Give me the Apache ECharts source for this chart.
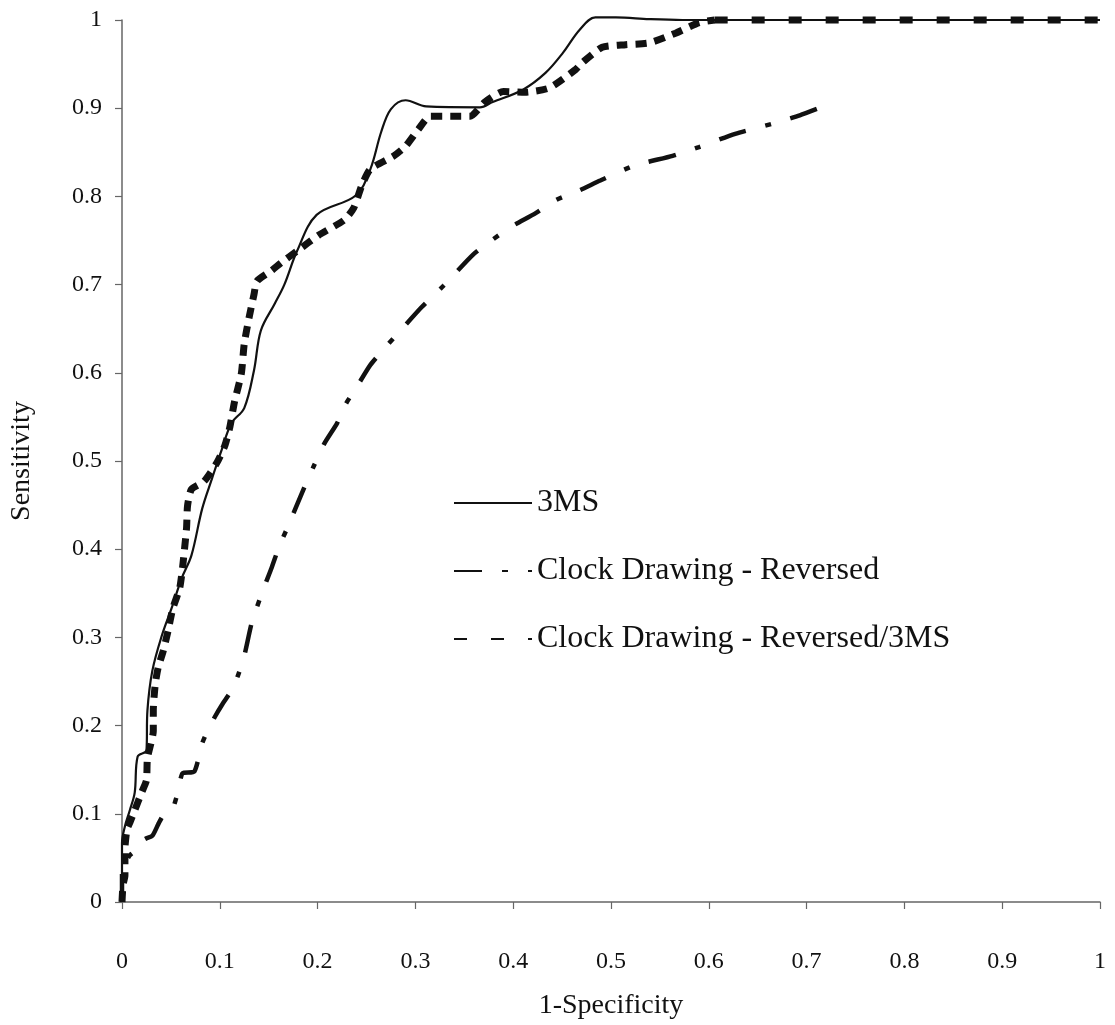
<!DOCTYPE html>
<html>
<head>
<meta charset="utf-8">
<script src="https://cdn.jsdelivr.net/npm/echarts@6/dist/echarts.min.js"></script>
<style>
html,body{margin:0;padding:0;background:#fff;}
#chart{width:1115px;height:1025px;}
</style>
</head>
<body>
<div id="chart"></div>
<script>
// ---- Data ----
var xTicks = [0, 0.1, 0.2, 0.3, 0.4, 0.5, 0.6, 0.7, 0.8, 0.9, 1];
var yTicks = [0, 0.1, 0.2, 0.3, 0.4, 0.5, 0.6, 0.7, 0.8, 0.9, 1];

var seriesNames = ["3MS", "Clock Drawing - Reversed", "Clock Drawing - Reversed/3MS"];

// 3MS (solid)
var ms3X = [0, 0, 0.003, 0.008, 0.013, 0.016, 0.025, 0.026, 0.031, 0.041, 0.051, 0.061, 0.071, 0.082, 0.092, 0.102, 0.112, 0.125, 0.135, 0.142, 0.156, 0.166, 0.179, 0.199, 0.239, 0.254, 0.265, 0.275, 0.29, 0.311, 0.366, 0.379, 0.41, 0.433, 0.451, 0.468, 0.484, 0.505, 0.539, 0.573, 1.0];
var ms3Y = [0, 0.067, 0.086, 0.104, 0.124, 0.165, 0.172, 0.217, 0.262, 0.303, 0.334, 0.367, 0.393, 0.446, 0.48, 0.513, 0.543, 0.56, 0.603, 0.648, 0.678, 0.7, 0.738, 0.779, 0.801, 0.831, 0.873, 0.899, 0.909, 0.902, 0.901, 0.907, 0.921, 0.94, 0.963, 0.989, 1.003, 1.003, 1.001, 1.0, 1.0];

// Clock Drawing - Reversed (dash-dot)
var cdrX = [0, 0, 0.003, 0.008, 0.016, 0.023, 0.031, 0.037, 0.042, 0.051, 0.056, 0.059, 0.062, 0.074, 0.082, 0.087, 0.095, 0.102, 0.112, 0.118, 0.125, 0.133, 0.145, 0.153, 0.161, 0.169, 0.186, 0.196, 0.207, 0.22, 0.229, 0.24, 0.254, 0.271, 0.288, 0.306, 0.329, 0.359, 0.379, 0.397, 0.423, 0.444, 0.468, 0.489, 0.524, 0.563, 0.59, 0.627, 0.667, 0.693, 0.717];
var cdrY = [0, 0.045, 0.045, 0.053, 0.06, 0.071, 0.075, 0.088, 0.098, 0.104, 0.12, 0.135, 0.146, 0.148, 0.18, 0.193, 0.21, 0.223, 0.24, 0.255, 0.279, 0.318, 0.356, 0.379, 0.404, 0.424, 0.469, 0.494, 0.52, 0.543, 0.565, 0.584, 0.609, 0.631, 0.652, 0.674, 0.699, 0.734, 0.751, 0.765, 0.781, 0.796, 0.807, 0.818, 0.835, 0.846, 0.856, 0.871, 0.883, 0.892, 0.902];

// Clock Drawing - Reversed/3MS (thick dashed) — rising part
var cdr3X = [0, 0.001, 0.003, 0.003, 0.005, 0.008, 0.013, 0.02, 0.025, 0.026, 0.032, 0.032, 0.034, 0.037, 0.042, 0.047, 0.052, 0.059, 0.062, 0.066, 0.067, 0.071, 0.084, 0.097, 0.105, 0.11, 0.115, 0.122, 0.125, 0.13, 0.135, 0.138, 0.153, 0.163, 0.179, 0.201, 0.227, 0.237, 0.245, 0.254, 0.278, 0.29, 0.303, 0.315, 0.336, 0.356, 0.371, 0.39, 0.412, 0.437, 0.464, 0.471, 0.491, 0.515, 0.539, 0.566, 0.59, 0.606];
var cdr3Y = [0, 0.019, 0.03, 0.06, 0.082, 0.09, 0.104, 0.124, 0.138, 0.163, 0.194, 0.217, 0.247, 0.266, 0.284, 0.307, 0.333, 0.356, 0.38, 0.424, 0.449, 0.468, 0.477, 0.498, 0.517, 0.537, 0.567, 0.599, 0.633, 0.663, 0.689, 0.704, 0.716, 0.725, 0.738, 0.756, 0.773, 0.787, 0.812, 0.831, 0.846, 0.857, 0.876, 0.891, 0.891, 0.891, 0.907, 0.919, 0.918, 0.923, 0.944, 0.952, 0.969, 0.972, 0.974, 0.985, 0.997, 1.0];
// same series — flat plateau part
var cdr3FlatX = [0.606, 1.0];
var cdr3FlatY = [1.0, 1.0];

function zip(xs, ys) { return xs.map(function (x, i) { return [x, ys[i]]; }); }

var FONT = "'Liberation Serif', 'Times New Roman', serif";
var chart = echarts.init(document.getElementById('chart'), null, { renderer: 'canvas' });

chart.setOption({
  backgroundColor: '#ffffff',
  animation: false,
  grid: { left: 117, right: 15, top: 20, bottom: 115, containLabel: false },
  legend: {
    orient: 'vertical',
    left: 448,
    top: 482,
    itemWidth: 78,
    itemHeight: 12,
    itemGap: 36,
    itemStyle: { opacity: 0 },
    textStyle: { fontFamily: FONT, fontSize: 32, color: '#111', lineHeight: 28 },
    data: seriesNames
  },
  xAxis: {
    type: 'value', min: 0, max: 1, interval: 0.1,
    name: '1-Specificity', nameLocation: 'middle', nameGap: 90,
    nameTextStyle: { fontFamily: FONT, fontSize: 28, color: '#111' },
    axisLine: { show: true, onZero: false, lineStyle: { color: '#666', width: 1.5 } },
    axisTick: { show: true, inside: false, length: 7, lineStyle: { color: '#666', width: 1.2 } },
    axisLabel: { fontFamily: FONT, fontSize: 24, color: '#111', margin: 48,
      formatter: function (v) { return String(Math.round(v * 10) / 10); } },
    splitLine: { show: false }
  },
  yAxis: {
    type: 'value', min: 0, max: 1, interval: 0.1,
    name: 'Sensitivity', nameLocation: 'middle', nameGap: 86, nameRotate: 90,
    nameTextStyle: { fontFamily: FONT, fontSize: 28, color: '#111' },
    axisLine: { show: true, onZero: false, lineStyle: { color: '#666', width: 1.5 } },
    axisTick: { show: true, inside: false, length: 7, lineStyle: { color: '#666', width: 1.2 } },
    axisLabel: { fontFamily: FONT, fontSize: 24, color: '#111', margin: 20,
      formatter: function (v) { return String(Math.round(v * 10) / 10); } },
    splitLine: { show: false }
  },
  series: [
    {
      name: seriesNames[0], type: 'line', data: zip(ms3X, ms3Y),
      symbol: 'none', smooth: 0.35, clip: false, z: 3,
      lineStyle: { color: '#111', width: 2.2, type: 'solid' },
      itemStyle: { color: '#111' }
    },
    {
      name: seriesNames[1], type: 'line', data: zip(cdrX, cdrY),
      symbol: 'none', smooth: 0.2, z: 2,
      lineStyle: { color: '#111', width: 4.5, type: [28, 20, 6, 20], cap: 'butt' },
      itemStyle: { color: '#111' }
    },
    {
      name: seriesNames[2], type: 'line', data: zip(cdr3FlatX, cdr3FlatY),
      symbol: 'none', clip: false, z: 2,
      lineStyle: { color: '#111', width: 7, type: [13, 24], cap: 'butt' },
      itemStyle: { color: '#111' }
    },
    {
      name: seriesNames[2], type: 'line', data: zip(cdr3X, cdr3Y),
      symbol: 'none', smooth: 0.2, clip: false, z: 2,
      lineStyle: { color: '#111', width: 7, type: [11, 8], cap: 'butt' },
      itemStyle: { color: '#111' }
    }
  ]
});
</script>
</body>
</html>
